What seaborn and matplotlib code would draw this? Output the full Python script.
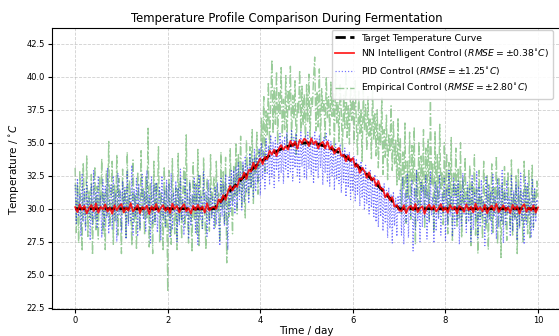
import numpy as np
import pandas as pd
import matplotlib
matplotlib.use("Agg")
import matplotlib.pyplot as plt
import seaborn as sns

# ---------------- data ----------------
time_days = np.round(np.linspace(0, 10, 201), 3)    # grid of the NN series
time_fine = np.round(np.linspace(0, 10, 401), 3)    # grid of PID / empirical series

target_days = [0, 3, 3.25, 3.5, 3.75, 4, 4.25, 4.5, 4.75, 5,
               5.25, 5.5, 5.75, 6, 6.25, 6.5, 6.75, 7, 10]
target_temps = [30, 30, 30.98, 31.91, 32.78, 33.54, 34.16, 34.62, 34.90, 35.0,
                34.90, 34.62, 34.16, 33.54, 32.78, 31.91, 30.98, 30, 30]

nn_temps = [
    30.12, 29.75, 30.31, 29.92, 30.22, 29.65, 30.05, 30.28, 29.82, 30.40,
    29.70, 30.15, 29.95, 30.33, 29.78, 30.10, 29.62, 30.26, 29.88, 30.18,
    30.35, 29.72, 30.08, 29.85, 30.42, 29.80, 30.02, 30.30, 29.67, 30.14,
    29.94, 30.24, 29.60, 30.19, 29.90, 30.36, 29.76, 30.06, 30.27, 29.84,
    30.11, 29.68, 30.38, 29.98, 30.21, 29.73, 30.09, 30.34, 29.81, 30.04,
    29.64, 30.23, 29.89, 30.29, 29.93, 30.17, 29.71, 30.41, 29.86, 30.07,
    30.15, 29.99, 30.71, 30.50, 31.03, 30.67, 31.29, 31.73, 31.38, 31.76,
    31.65, 32.29, 32.23, 32.74, 32.26, 32.94, 32.81, 33.49, 33.02, 33.47,
    33.81, 33.37, 33.93, 33.75, 34.39, 34.10, 34.48, 33.99, 34.56, 34.82,
    34.47, 34.74, 34.48, 35.14, 34.75, 35.09, 34.55, 35.21, 34.96, 35.31,
    35.14, 34.75, 35.34, 34.89, 35.12, 34.57, 34.93, 35.07, 34.56, 35.09,
    34.50, 34.75, 34.17, 34.45, 34.61, 34.00, 34.09, 33.59, 34.03, 33.62,
    33.84, 33.17, 33.36, 32.72, 33.11, 32.84, 32.34, 32.76, 32.17, 32.34,
    31.72, 32.11, 31.52, 31.51, 30.86, 31.18, 30.64, 30.88, 30.15, 30.28,
    29.88,
    29.82, 30.27, 29.67, 30.09, 30.22, 29.88, 30.36, 29.74, 30.04, 30.19,
    29.61, 30.13, 30.31, 29.93, 30.24, 29.79, 30.02, 30.35, 29.85, 30.10,
    29.70, 30.28, 29.95, 30.17, 29.64, 30.21, 30.07, 29.76, 30.33, 29.89,
    30.16, 29.72, 30.39, 29.91, 30.12, 29.80, 30.30, 29.66, 30.06, 30.23,
    29.87, 30.37, 29.75, 30.01, 30.26, 29.83, 30.11, 29.68, 30.29, 29.96,
    30.20, 29.63, 30.14, 30.34, 29.77, 30.08, 29.85, 30.25, 29.71, 30.10,
]

pid_temps = [
    31.8, 28.9, 32.3, 29.4, 31.1, 27.9, 32.6, 29.0, 31.5, 28.3, 32.0, 29.6, 30.8, 27.6, 31.9, 28.8, 32.9, 29.2, 31.3, 28.5,
    32.4, 29.7, 31.0, 27.8, 32.2, 28.6, 31.7, 29.3, 33.1, 28.1, 30.9, 31.8, 28.4, 32.5, 29.0, 31.2, 27.5, 32.7, 29.5, 31.4,
    28.2, 32.1, 29.8, 31.6, 27.7, 32.8, 28.7, 31.0, 29.1, 33.3, 28.0, 31.5, 29.4, 32.3, 27.9, 31.9, 28.5, 30.7, 32.6, 29.2,
    31.3, 28.3, 32.9, 29.6, 31.1, 27.4, 32.4, 28.9, 31.8, 29.0, 32.0, 28.2, 30.6, 31.7, 27.6, 32.5, 29.3, 31.4, 28.6, 32.2,
    29.5, 31.9, 27.8, 32.7, 28.4, 31.2, 29.7, 32.1, 27.5, 31.6, 28.8, 33.0, 29.1, 30.8, 28.0, 32.3, 29.4, 31.5, 27.7, 32.0,
    28.7, 31.1, 29.9, 32.4, 28.1, 31.8, 27.3, 32.6, 29.2, 31.0, 28.5, 32.8, 29.6, 31.3, 27.9, 32.2, 28.9, 31.6, 29.3, 30.9,
    28.4, 31.7, 28.8, 32.0, 29.1, 27.2, 32.3, 29.4, 31.9, 28.7, 32.6, 29.5, 26.9, 32.4, 29.8, 33.0, 30.2, 32.9, 29.6, 33.2,
    30.1, 33.5, 30.7, 32.8, 29.9, 33.6, 30.5, 34.0, 31.2, 33.3, 30.4, 34.2, 31.6, 33.8, 30.9, 34.5, 31.3, 33.9, 32.0, 34.6,
    31.0, 35.0, 32.2, 34.4, 31.5, 35.3, 32.6, 34.8, 31.8, 35.6, 32.4, 35.1, 31.6, 35.4, 32.9, 34.9, 32.1, 35.7, 32.7, 35.2,
    31.9, 35.5, 33.0, 35.8, 32.3, 35.1, 32.8, 36.0, 32.1, 35.4, 33.1, 35.7, 32.5, 35.2, 32.0, 35.9, 33.2, 35.3, 32.4, 35.6,
    32.2, 35.8, 33.0, 35.1, 32.6, 35.5, 31.9, 35.9, 32.8, 35.3, 32.3, 35.6, 33.1, 35.0, 31.8, 35.4, 32.7, 35.7, 32.0, 35.2,
    31.7, 35.1, 32.5, 34.7, 31.4, 35.0, 32.2, 34.5, 31.9, 34.9, 31.2, 34.4, 32.0, 34.6, 30.9, 34.2, 31.6, 34.3, 30.7, 33.9,
    31.3, 34.0, 30.6, 33.8, 31.1, 33.4, 30.2, 33.6, 30.8, 33.1, 29.9, 33.3, 30.4, 32.7, 29.6, 32.9, 30.1, 32.4, 29.3, 32.6,
    29.0, 32.2, 28.6, 32.0, 29.4, 31.7, 28.3, 31.9, 28.9, 31.4, 27.8, 31.6, 28.5, 31.1, 27.4, 31.3, 28.7, 30.8, 27.9, 31.0,
    29.6, 31.5, 28.0, 32.4, 27.3, 31.2, 29.0, 32.7, 27.8, 31.0, 29.4, 32.2, 26.8, 31.6, 28.4, 32.9, 29.1, 30.7, 27.5, 32.1,
    28.6, 31.8, 29.3, 32.5, 27.7, 31.3, 28.9, 32.8, 29.5, 30.9, 27.4, 32.0, 28.3, 31.7, 29.2, 32.6, 28.0, 31.1, 29.7, 32.3,
    27.6, 31.5, 28.8, 32.9, 29.4, 31.0, 27.9, 32.4, 28.5, 31.8, 29.1, 32.1, 27.3, 31.4, 28.7, 32.7, 29.6, 30.8, 28.2, 32.0,
    29.0, 31.6, 27.5, 32.5, 28.4, 31.2, 29.3, 32.8, 27.8, 31.7, 28.6, 32.2, 29.5, 30.6, 27.2, 32.4, 28.9, 31.9, 29.2, 31.3,
    28.1, 32.6, 29.4, 31.0, 27.7, 32.3, 28.6, 31.8, 29.0, 32.9, 27.4, 31.5, 28.8, 32.1, 29.6, 30.9, 27.9, 32.5, 28.3, 31.4,
    29.2, 32.0, 27.6, 31.7, 28.5, 32.7, 29.1, 31.2, 27.3, 32.4, 28.7, 31.9, 29.5, 30.8, 27.8, 32.2, 28.4, 31.6, 29.0, 30.7,
    30.4,
]

emp_temps = [
    33.1, 28.2, 31.9, 27.4, 32.8, 29.6, 26.8, 33.5, 30.2, 28.7, 34.0, 27.9, 31.4, 29.3, 32.6, 26.5, 30.8, 33.2, 28.4, 31.7,
    27.7, 32.4, 29.9, 33.8, 28.1, 31.2, 26.9, 32.9, 29.4, 35.1, 28.6, 30.5, 33.6, 27.3, 31.8, 29.1, 34.1, 28.0, 32.3, 30.0,
    26.6, 33.0, 29.7, 31.5, 27.8, 34.3, 28.9, 32.1, 30.4, 27.2, 33.7, 29.0, 31.1, 26.9, 32.8, 30.3, 28.3, 34.4, 29.5, 31.6,
    28.0, 32.5, 29.2, 36.1, 27.1, 31.9, 30.6, 26.6, 33.6, 28.8, 32.0, 29.8, 34.7, 27.5, 31.3, 30.1, 26.8, 33.2, 28.5, 31.7,
    23.7, 32.9, 29.4, 27.3, 33.8, 30.2, 28.1, 31.6, 26.9, 34.2, 29.0, 32.4, 27.7, 31.0, 33.1, 28.6, 35.6, 29.9, 27.4, 32.2,
    30.4, 26.7, 33.5, 29.1, 31.9, 28.0, 34.5, 27.2, 32.6, 30.0, 28.4, 33.9, 29.6, 26.9, 32.3, 30.8, 28.3, 34.1, 29.3, 31.4,
    32.4, 28.6, 33.6, 29.7, 31.2, 27.5, 34.3, 30.0, 32.8, 28.8, 33.9, 25.9, 31.5, 29.4, 34.6, 30.6, 28.1, 33.2, 31.0, 35.0,
    29.6, 34.2, 31.3, 35.5, 30.2, 33.4, 31.9, 29.3, 35.2, 32.5, 30.8, 34.7, 31.6, 36.0, 30.4, 33.9, 32.7, 35.8, 31.1, 34.4,
    33.2, 36.9, 34.0, 38.5, 32.8, 37.4, 35.6, 39.6, 34.3, 38.1, 41.3, 35.7, 39.2, 36.4, 40.4, 34.9, 38.8, 37.1, 40.7, 35.5,
    38.3, 36.0, 40.1, 34.6, 39.0, 37.5, 40.8, 35.2, 38.6, 36.8, 39.7, 34.1, 38.0, 37.2, 40.5, 35.8, 39.3, 36.3, 38.7, 34.8,
    39.4, 36.6, 40.2, 35.4, 38.4, 37.7, 39.9, 41.5, 35.9, 38.9, 36.2, 40.6, 34.7, 39.1, 37.4, 38.2, 35.3, 40.0, 36.9, 38.5,
    35.6, 39.6, 37.0, 38.8, 34.5, 40.3, 36.5, 38.1, 35.1, 39.4, 37.3, 34.3, 38.6, 36.1, 40.4, 35.4, 37.8, 34.9, 39.2, 36.7,
    38.4, 35.0, 39.7, 36.3, 34.1, 38.9, 35.7, 37.6, 33.6, 39.0, 36.0, 37.9, 34.4, 38.5, 35.5, 36.8, 33.8, 39.3, 35.2, 37.2,
    34.0, 37.5, 33.1, 36.4, 34.8, 38.4, 32.6, 36.0, 33.9, 37.1, 32.2, 35.6, 34.3, 37.8, 32.9, 36.6, 33.4, 35.2, 31.8, 36.9,
    32.1, 35.4, 29.6, 34.3, 31.4, 36.5, 28.9, 33.6, 30.8, 35.8, 29.2, 34.8, 31.9, 36.2, 27.3, 33.0, 30.3, 35.1, 29.7, 34.0,
    31.2, 36.0, 28.5, 34.6, 30.7, 35.3, 29.1, 38.3, 31.8, 33.4, 28.2, 35.9, 30.0, 34.1, 29.4, 36.4, 31.5, 32.8, 28.8, 35.0,
    30.6, 34.2, 28.1, 33.5, 29.8, 35.4, 27.5, 32.7, 30.9, 34.6, 28.6, 33.1, 29.3, 35.0, 27.8, 32.4, 30.4, 33.9, 28.9, 31.7,
    29.6, 33.3, 27.2, 32.1, 30.3, 34.1, 28.0, 31.5, 26.6, 32.9, 29.4, 31.0, 27.7, 33.6, 30.1, 28.4, 32.6, 26.9, 31.8, 29.1,
    33.4, 28.2, 31.6, 29.7, 34.0, 27.3, 32.3, 30.5, 26.3, 31.9, 28.8, 33.2, 29.9, 27.6, 32.8, 30.2, 28.5, 33.7, 27.9, 31.2,
    29.3, 32.5, 26.6, 33.0, 28.7, 31.4, 30.0, 27.5, 33.6, 29.1, 31.8, 28.1, 32.9, 27.8, 30.6, 33.3, 28.6, 31.5, 29.4, 32.1,
    30.9,
]

labels = [
    "Target Temperature Curve",
    r"NN Intelligent Control ($RMSE = \pm0.38^{\circ}C$)",
    r"PID Control ($RMSE = \pm1.25^{\circ}C$)",
    r"Empirical Control ($RMSE = \pm2.80^{\circ}C$)",
]

nn_df = pd.DataFrame({"day": time_days, "temp": nn_temps})
fine_df = pd.DataFrame({"day": time_fine, "pid": pid_temps, "emp": emp_temps})
tdf = pd.DataFrame({"day": target_days, "temp": target_temps})

# ---------------- plot ----------------
fig = plt.figure(figsize=(5.59, 3.36), dpi=100)
ax = fig.add_axes([52 / 559, 27 / 336, (561.2 - 52) / 559, 281 / 336])

sns.lineplot(data=fine_df, x="day", y="emp", ax=ax, color="green", alpha=0.4,
             linestyle="-.", linewidth=1.0, label=labels[3], zorder=1)
sns.lineplot(data=fine_df, x="day", y="pid", ax=ax, color="blue", alpha=0.55,
             linestyle=":", linewidth=0.85, label=labels[2], zorder=2)
sns.lineplot(data=tdf, x="day", y="temp", ax=ax, color="black",
             linestyle="--", linewidth=2.0, label=labels[0], zorder=3)
sns.lineplot(data=nn_df, x="day", y="temp", ax=ax, color="red", alpha=0.85,
             linewidth=1.3, label=labels[1], zorder=4)

ax.set_xlim(-0.5, 10.5)
ax.set_ylim(22.4, 43.7)
ax.set_xticks([0, 2, 4, 6, 8, 10])
ax.set_yticks([22.5, 25.0, 27.5, 30.0, 32.5, 35.0, 37.5, 40.0, 42.5])
ax.tick_params(labelsize=6, length=3, pad=2)
ax.grid(True, linestyle="--", alpha=0.6, linewidth=0.6)
ax.set_xlabel("Time / day", fontsize=7.5, labelpad=1)
ax.set_ylabel(r"Temperature / $^{\circ}C$", fontsize=7.5, labelpad=4)
ax.set_title("Temperature Profile Comparison During Fermentation",
             fontsize=8.4, pad=4, x=0.4605)

handles, labs = ax.get_legend_handles_labels()
order = [labs.index(l) for l in labels]
ax.legend([handles[i] for i in order], [labs[i] for i in order],
          loc="upper right", bbox_to_anchor=(0.984, 0.993), borderaxespad=0,
          fontsize=6.7, framealpha=0.9)

fig.savefig("out.png", dpi=100)
